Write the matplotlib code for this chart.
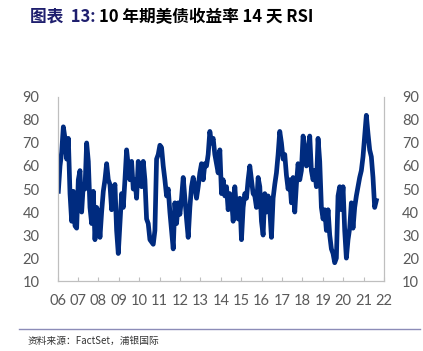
import matplotlib.pyplot as plt
import numpy as np

plt.rcParams['font.family'] = ['Noto Sans CJK SC', 'DejaVu Sans']

# 10Y UST 14-day RSI (roughly monthly samples)
rsi = [49, 60, 66, 77, 72, 63, 72, 48, 36, 49, 34, 33, 54, 58, 40, 52, 50, 70, 62, 42,
       35, 49, 28, 42, 40, 29, 40, 49, 54, 61, 54, 52, 41, 48, 52, 32, 22, 35, 48, 42,
       54, 67, 60, 54, 62, 50, 54, 46, 62, 52, 51, 62, 54, 37, 35, 28, 27, 26, 32, 63,
       65, 69, 68, 60, 54, 47, 50, 40, 32, 24, 44, 35, 44, 39, 46, 55, 46, 37, 29, 42,
       51, 55, 51, 46, 51, 57, 61, 54, 61, 60, 65, 75, 70, 72, 65, 61, 57, 67, 48, 54,
       47, 51, 41, 48, 46, 36, 51, 41, 37, 46, 28, 42, 48, 46, 54, 60, 54, 48, 47, 42,
       55, 51, 36, 30, 48, 40, 47, 41, 29, 46, 52, 57, 65, 75, 70, 63, 65, 56, 50, 54,
       44, 55, 40, 52, 61, 54, 58, 73, 69, 60, 61, 73, 58, 54, 58, 51, 72, 62, 42, 37,
       41, 32, 41, 30, 24, 22, 18, 20, 47, 51, 41, 51, 32, 20, 28, 33, 44, 33, 42, 47,
       51, 55, 58, 64, 73, 82, 74, 67, 64, 55, 42, 45]
first_year = 2006.04
last_year = 2021.62
years = np.linspace(first_year, last_year, len(rsi))

tick_years = list(range(2006, 2023))
tick_labels = ['%02d' % (y % 100) for y in tick_years]
y_ticks = [10, 20, 30, 40, 50, 60, 70, 80, 90]

navy = '#002B7F'
grey_txt = '#595959'
spine_c = '#BFBFBF'

fig = plt.figure(figsize=(4.23, 3.51), dpi=100)
ax = fig.add_axes([0.136, 0.199, 0.772, 0.525])
ax.plot(years, rsi, color=navy, linewidth=3.4, solid_joinstyle='round')

ax.set_xlim(2006, 2022)
ax.set_ylim(10, 90)
ax.set_xticks(tick_years)
ax.set_xticklabels(tick_labels)
ax.set_yticks(y_ticks)
ax.tick_params(axis='x', direction='in', length=3, color=spine_c, pad=9,
               labelsize=10.5, labelcolor=grey_txt)
ax.tick_params(axis='y', length=0, pad=13, labelsize=10.5, labelcolor=grey_txt)
ax.spines['top'].set_visible(False)
for s in ['left', 'right', 'bottom']:
    ax.spines[s].set_color(spine_c)
    ax.spines[s].set_linewidth(0.8)

ax2 = ax.twinx()
ax2.set_ylim(10, 90)
ax2.set_yticks(y_ticks)
ax2.tick_params(axis='y', length=0, pad=13, labelsize=10.5, labelcolor=grey_txt)
ax2.spines['top'].set_visible(False)
for s in ['left', 'right', 'bottom']:
    ax2.spines[s].set_color(spine_c)
    ax2.spines[s].set_linewidth(0.8)

for lab in ax.get_xticklabels() + ax.get_yticklabels() + ax2.get_yticklabels():
    lab.set_family('Lato')

fig.text(0.071, 0.952, '图表  13:', fontsize=12, fontweight='bold', color='#1F1F6E',
         va='center', ha='left')
fig.text(0.235, 0.952, '10 年期美债收益率 14 天 RSI', fontsize=12, fontweight='bold',
         color='black', va='center', ha='left')

fig.add_artist(plt.Line2D([0.045, 0.993], [0.063, 0.063], color='#8C8CB8', linewidth=1))
fig.text(0.066, 0.030, '资料来源：FactSet，浦银国际', fontsize=7, color='#333333',
         va='center', ha='left')

fig.savefig('out.png', dpi=100)
